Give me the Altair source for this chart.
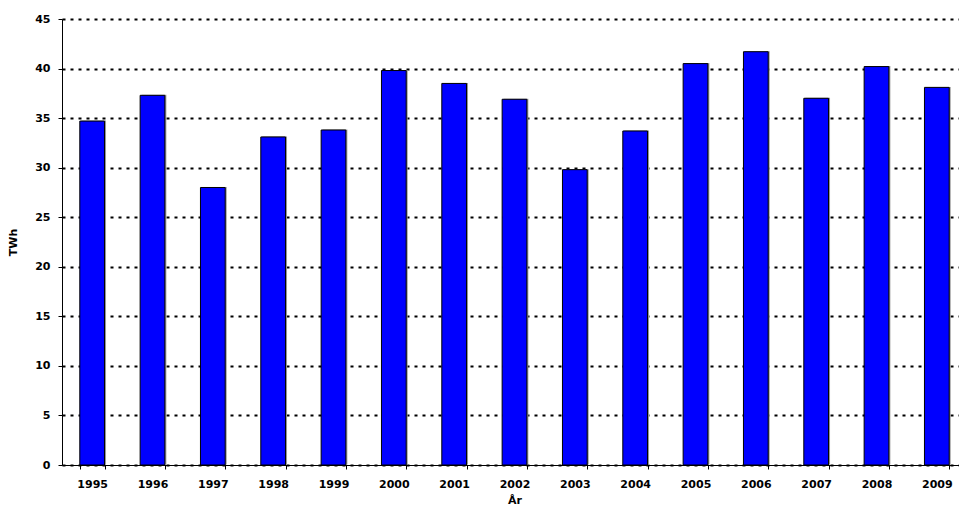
import altair as alt
import pandas as pd

# Annual production, TWh
years = ["1995", "1996", "1997", "1998", "1999", "2000", "2001", "2002",
         "2003", "2004", "2005", "2006", "2007", "2008", "2009"]
twh = [34.7, 37.3, 28.0, 33.1, 33.8, 39.8, 38.5, 36.9,
       29.8, 33.7, 40.5, 41.7, 37.0, 40.2, 38.1]
y_ticks = [0, 5, 10, 15, 20, 25, 30, 35, 40, 45]

df = pd.DataFrame({"year": years, "twh": twh})

FONT = "DejaVu Sans"

x_enc = alt.X(
    "year:N",
    title="År",
    sort=years,
    scale=alt.Scale(range=[0, 905], paddingInner=0.59, paddingOuter=0.295),
    axis=alt.Axis(
        labelAngle=0,
        tickBand="extent",
        tickSize=4,
        tickColor="#000000",
        domainColor="#000000",
        labelPadding=9,
        titlePadding=5,
        grid=False,
    ),
)
y_enc = alt.Y(
    "twh:Q",
    title="TWh",
    scale=alt.Scale(domain=[0, 45], nice=False),
    axis=alt.Axis(
        values=y_ticks,
        tickSize=4,
        tickColor="#000000",
        domainColor="#000000",
        labelPadding=8,
        titlePadding=16,
        grid=True,
        gridColor="#000000",
        gridDash=[3, 5],
        gridWidth=2,
    ),
)

base = alt.Chart(df)

# soft grey drop shadow on the right of each bar
shadow = base.mark_bar(color="#9a9a9a", xOffset=1.5, yOffset=-0.5).encode(x=x_enc, y=y_enc)
bars = base.mark_bar(color="#0000FF", stroke="#000000", strokeWidth=1).encode(x=x_enc, y=y_enc)

chart = (
    alt.layer(shadow, bars)
    .properties(
        width=897,
        height=446,
        autosize=alt.AutoSizeParams(type="none"),
        padding={"left": 62, "top": 19, "right": 0, "bottom": 45},
    )
    .configure_view(stroke=None)
    .configure_axis(
        labelFont=FONT,
        labelFontSize=11,
        labelFontWeight="bold",
        labelColor="#000000",
        titleFont=FONT,
        titleFontSize=11,
        titleFontWeight="bold",
        titleColor="#000000",
    )
)

chart.save("out.html", embed_options={"renderer": "svg", "actions": False})
